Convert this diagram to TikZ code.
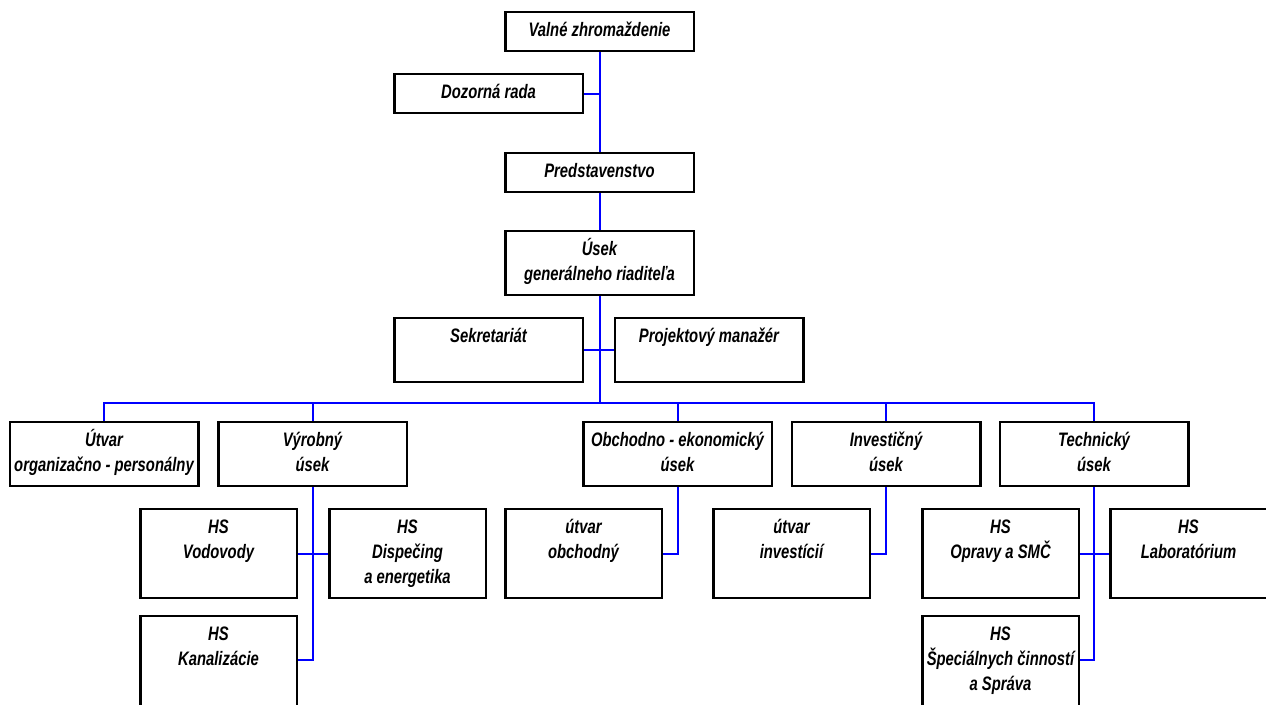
\documentclass[tikz,border=0pt]{standalone}
\usepackage{fontspec}
\newfontfamily\boxfont[FakeStretch=0.76]{Liberation Sans}
\usepackage{tikz}

\begin{document}
\begin{tikzpicture}[x=1pt,y=-1pt,
        unit/.style={draw=black,line width=2.5pt,fill=white,align=center,
            inner xsep=2pt,inner ysep=7pt,
            font=\boxfont\bfseries\itshape\fontsize{19.5}{25}\selectfont},
        wide/.style={unit,minimum width=188.5pt},
        narrow/.style={unit,minimum width=156.5pt},
        link/.style={blue,line width=2pt}]
        \clip (0,0) rectangle (1266,704);
        \node[wide] (valne) at (599.5,31.5) {\strut Valné zhromaždenie};
        \node[wide] (dozor) at (488.5,93.5) {\strut Dozorná rada};
        \node[wide] (pred) at (599.5,172.5) {\strut Predstavenstvo};
        \node[wide] (ugr) at (599.5,263) {\strut Úsek\\\strut generálneho riaditeľa};
        \node[wide] (sekr) at (488.5,350) {\strut Sekretariát\\\strut};
        \node[wide] (proj) at (709,350) {\strut Projektový manažér\\\strut};
        \node[wide] (utvar) at (104,454) {\strut Útvar\\\strut organizačno - personálny};
        \node[wide] (vyr) at (312.5,454) {\strut Výrobný\\\strut úsek};
        \node[wide] (obch) at (677.5,454) {\strut Obchodno - ekonomický\\\strut úsek};
        \node[wide] (inv) at (886,454) {\strut Investičný\\\strut úsek};
        \node[wide] (tech) at (1094,454) {\strut Technický\\\strut úsek};
        \node[narrow] (vod) at (218.5,553.5) {\strut HS\\\strut Vodovody\\\strut};
        \node[narrow] (disp) at (407.5,553.5) {\strut HS\\\strut Dispečing\\\strut a energetika};
        \node[narrow] (kan) at (218.5,673) {\strut HS\\\strut Kanalizácie\\\strut\\\strut};
        \node[narrow] (uobch) at (583.5,553.5) {\strut útvar\\\strut obchodný\\\strut};
        \node[narrow] (uinv) at (791.5,553.5) {\strut útvar\\\strut investícií\\\strut};
        \node[narrow] (opr) at (1000.5,553.5) {\strut HS\\\strut Opravy a SMČ\\\strut};
        \node[narrow] (lab) at (1188.5,553.5) {\strut HS\\\strut Laboratórium\\\strut};
        \node[narrow] (spec) at (1000.5,673) {\strut HS\\\strut Špeciálnych činností\\\strut a Správa\\\strut};
        \coordinate (bus) at (599.5,403);
        \draw[link] (valne) -- (pred);
        \draw[link] (pred) -- (ugr);
        \draw[link] (dozor.east) -- (dozor.east -| valne.south);
        \draw[link] (ugr.south) -- (bus);
        \draw[link] (sekr.east) -- (proj.west);
        \draw[link] (utvar.north) |- (bus) -| (tech.north);
        \foreach \n in {vyr,obch,inv}
            \draw[link] (\n.north) -- (\n.north |- bus);
        \draw[link] (vyr.south) |- ([yshift=13pt]kan.east);
        \draw[link] (vod.east) -- (disp.west);
        \draw[link] (obch.south) |- (uobch.east);
        \draw[link] (inv.south) |- (uinv.east);
        \draw[link] (tech.south) |- ([yshift=13pt]spec.east);
        \draw[link] (opr.east) -- (lab.west);
    \end{tikzpicture}
\end{document}
